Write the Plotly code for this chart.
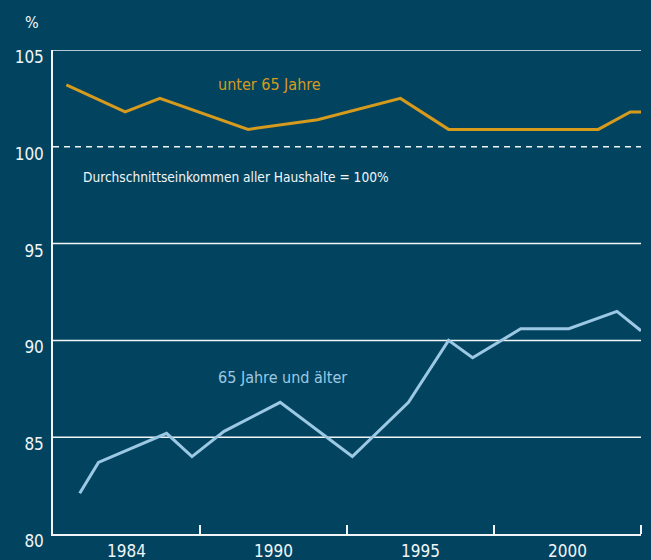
import plotly.graph_objects as go

# ---- data ----
years_u65 = [1982.0, 1984.2, 1985.5, 1988.8, 1991.4, 1994.5, 1996.3, 2001.9, 2003.1, 2003.5]
vals_u65 = [103.2, 101.8, 102.5, 100.9, 101.4, 102.5, 100.9, 100.9, 101.8, 101.8]

years_65p = [1982.5, 1983.2, 1985.75, 1986.7, 1987.9, 1990.0, 1992.7, 1994.8, 1996.3, 1997.2, 1999.0, 2000.8, 2002.6, 2003.5]
vals_65p = [82.1, 83.7, 85.2, 84.0, 85.3, 86.8, 84.0, 86.8, 90.0, 89.1, 90.6, 90.6, 91.5, 90.5]

x_label_pos = [1984.25, 1989.75, 1995.25, 2000.75]
x_labels = ["1984", "1990", "1995", "2000"]
x_tick_marks = [1987.0, 1992.5, 1998.0, 2003.5]
x_range = [1981.5, 2003.5]

y_ticks = [80, 85, 90, 95, 100, 105]
y_grid = [85, 90, 95, 105]
y_ref = 100

BG = "#024460"
ORANGE = "#d69a1d"
LIGHTBLUE = "#9cc8e4"
WHITE = "#f2f5f7"
FONT = "Liberation Sans Narrow, DejaVu Sans Condensed, Arial Narrow, sans-serif"

fig = go.Figure()

fig.add_trace(go.Scatter(x=years_u65, y=vals_u65, mode="lines",
                         line=dict(color=ORANGE, width=3), hoverinfo="skip"))
fig.add_trace(go.Scatter(x=years_65p, y=vals_65p, mode="lines",
                         line=dict(color=LIGHTBLUE, width=3), hoverinfo="skip"))

shapes = []
for g in y_grid:
    shapes.append(dict(type="line", xref="x domain", yref="y", x0=0, x1=1, y0=g, y1=g,
                       line=dict(color=WHITE, width=1.5), layer="below"))
shapes.append(dict(type="line", xref="x domain", yref="y", x0=0, x1=1, y0=y_ref, y1=y_ref,
                   line=dict(color=WHITE, width=1.5, dash="6px,5px"), layer="below"))

annotations = [
    dict(text="%", xref="paper", yref="paper", x=-0.036, y=1.0, yshift=28, xanchor="center",
         yanchor="middle", showarrow=False, font=dict(family=FONT, size=16, color=WHITE)),
    dict(text="unter 65 Jahre", x=1987.6, y=103.2, xref="x", yref="y", xanchor="left",
         yanchor="middle", showarrow=False, font=dict(family=FONT, size=16, color=ORANGE)),
    dict(text="65 Jahre und älter", x=1987.6, y=88.1, xref="x", yref="y", xanchor="left",
         yanchor="middle", showarrow=False, font=dict(family=FONT, size=16, color=LIGHTBLUE)),
    dict(text="Durchschnittseinkommen aller Haushalte = 100%", x=1982.55, y=98.45, xref="x", yref="y",
         xanchor="left", yanchor="middle", showarrow=False, font=dict(family=FONT, size=13.6, color=WHITE)),
]

fig.update_layout(
    width=651, height=560,
    margin=dict(l=53, r=10, t=50, b=26, pad=0),
    paper_bgcolor=BG, plot_bgcolor=BG,
    showlegend=False,
    shapes=shapes,
    annotations=annotations,
    font=dict(family=FONT, color=WHITE, size=17),
)

fig.update_xaxes(
    range=x_range, showgrid=False, zeroline=False, automargin=False,
    showline=True, linecolor=WHITE, linewidth=1.5,
    tickmode="array", tickvals=x_label_pos, ticktext=x_labels,
    ticks="", ticklabelstandoff=1,
    tickfont=dict(family=FONT, size=17, color=WHITE),
    minor=dict(tickmode="array", tickvals=x_tick_marks, ticks="inside",
               ticklen=9, tickwidth=1.5, tickcolor=WHITE, showgrid=False),
)
fig.update_yaxes(
    range=[80, 105], showgrid=False, zeroline=False, automargin=False,
    showline=True, linecolor=WHITE, linewidth=1.5,
    tickmode="array", tickvals=y_ticks, ticks="", ticklabelstandoff=4,
    ticklabelshift=7,
    tickfont=dict(family=FONT, size=17, color=WHITE),
)

fig.write_html(
    "out.html",
    config={"displayModeBar": False},
    post_script="document.body.style.margin='0';document.body.style.overflow='hidden';",
)
